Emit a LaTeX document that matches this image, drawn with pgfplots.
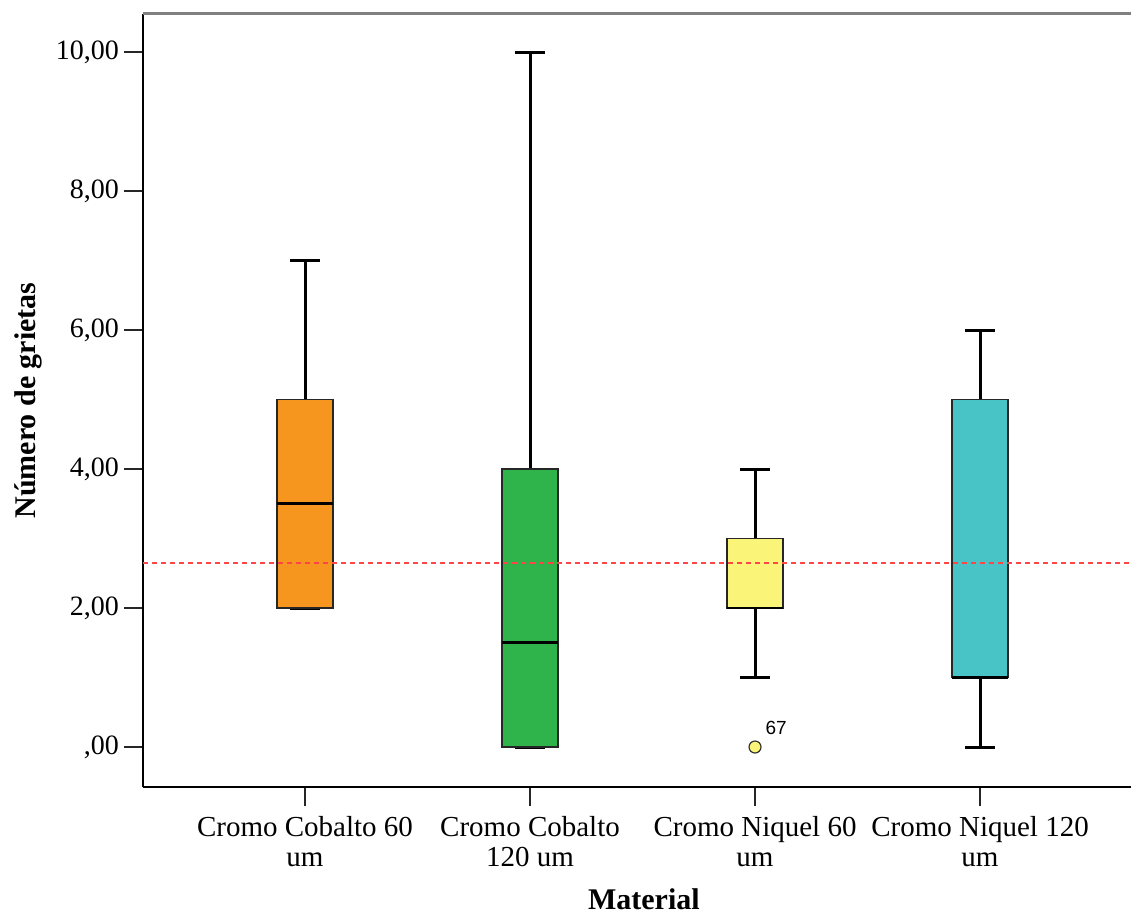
\documentclass[border=0pt]{standalone}
\usepackage{fontspec}
\setmainfont{Liberation Serif}
\newfontfamily\arial{Liberation Sans}
\usepackage{pgfplots}
\usepgfplotslibrary{statistics}
\pgfplotsset{compat=1.18}
\definecolor{ccorange}{RGB}{247,150,30}
\definecolor{ccgreen}{RGB}{46,180,74}
\definecolor{cnyellow}{RGB}{250,245,120}
\definecolor{cnteal}{RGB}{72,195,198}
\definecolor{refline}{RGB}{255,70,70}

\begin{document}
\begin{tikzpicture}
\begin{axis}[
    scale only axis, width=494pt, height=386.5pt,
    xmin=-0.72, xmax=3.671, ymin=-0.575, ymax=10.547,
    axis x line*=bottom, axis y line*=left,
    axis line style={black, line width=1pt},
    clip=false,
    xtick={0,1,2,3},
    xticklabels={{Cromo Cobalto 60\\um},{Cromo Cobalto\\120 um},{Cromo Niquel 60\\um},{Cromo Niquel 120\\um}},
    xticklabel style={align=center, font=\fontsize{14.5}{15}\selectfont, yshift=-1.5pt},
    ytick={0,2,4,6,8,10},
    yticklabels={{,00},{2,00},{4,00},{6,00},{8,00},{10,00}},
    yticklabel style={font=\fontsize{14}{16}\selectfont, xshift=1pt},
    tick align=outside, major tick length=9.5pt,
    tick style={black!85, line width=1pt},
    xlabel={\textbf{Material}},
    ylabel={\textbf{Número de grietas}},
    label style={font=\fontsize{15}{18}\selectfont},
    xlabel style={at={(axis description cs:0.507,-0.145)}, anchor=center},
    ylabel style={at={(axis description cs:-0.1164,0.5)}, anchor=center, rotate=0},
    boxplot/draw direction=y,
    boxplot/every whisker/.style={black, line width=1.5pt},
    boxplot/every median/.style={black, line width=1.6pt},
    boxplot/every box/.style={draw=black!85, line width=0.9pt},
]
\coordinate (axsw) at (rel axis cs:0,0);
\coordinate (axne) at (rel axis cs:1,1);

\addplot[fill=ccorange, boxplot prepared={draw position=0,
    lower whisker=2, lower quartile=2, median=3.5, upper quartile=5, upper whisker=7,
    box extend=0.249, whisker extend=0.133}] coordinates {};
\addplot[fill=ccgreen, boxplot prepared={draw position=1,
    lower whisker=0, lower quartile=0, median=1.5, upper quartile=4, upper whisker=10,
    box extend=0.249, whisker extend=0.133}] coordinates {};
\addplot[fill=cnyellow, mark=*, mark size=3pt,
    mark options={fill=cnyellow, draw=black!80, line width=0.6pt},
    boxplot/every median/.style={black, line width=1.1pt},
    boxplot prepared={draw position=2,
    lower whisker=1, lower quartile=2, median=2, upper quartile=3, upper whisker=4,
    box extend=0.249, whisker extend=0.133}] coordinates {(0,0)};
\addplot[fill=cnteal,
    boxplot/every median/.style={black, line width=1.1pt},
    boxplot prepared={draw position=3,
    lower whisker=0, lower quartile=1, median=1, upper quartile=5, upper whisker=6,
    box extend=0.249, whisker extend=0.133}] coordinates {};

\addplot[refline, line width=0.6pt, dash pattern=on 2.5pt off 2pt] coordinates {(-0.72,2.647) (3.671,2.647)};

\node[anchor=west, font=\arial\fontsize{9.5}{11}\selectfont, inner sep=0pt] at (axis cs:2.045,0.27) {67};
\draw[gray, line width=1.5pt] (rel axis cs:0,1) -- (rel axis cs:1,1);
\end{axis}
\pgfresetboundingbox
\path ([xshift=-71.5pt,yshift=-63pt]axsw) rectangle ([yshift=7pt]axne);
\end{tikzpicture}
\end{document}
